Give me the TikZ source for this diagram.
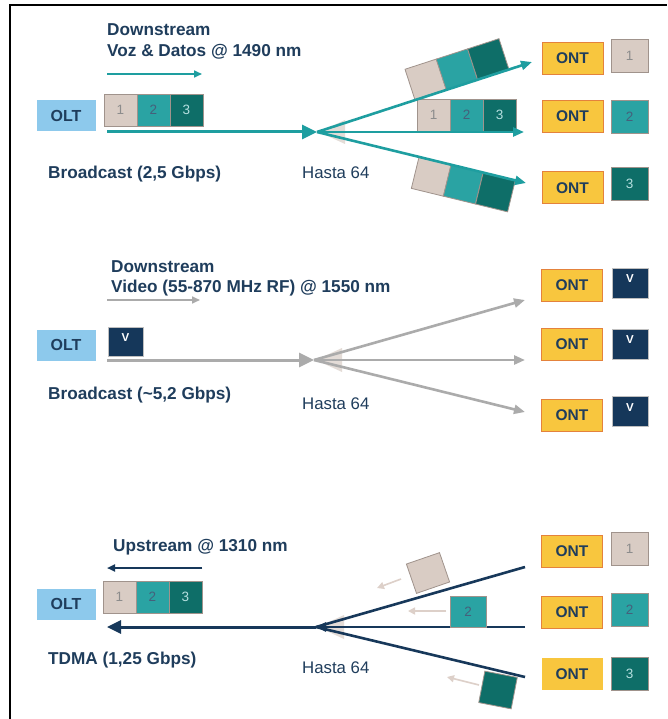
\documentclass[tikz,border=0pt]{standalone}
\usepackage{fontspec}
\setmainfont{Liberation Sans}
\usetikzlibrary{arrows.meta}

\definecolor{ink}{HTML}{1F3D5C}
\definecolor{fiberteal}{HTML}{1E9EA0}
\definecolor{oltblue}{HTML}{8DC9EC}
\definecolor{pkbeige}{HTML}{D9CCC4}
\definecolor{pkteal}{HTML}{2AA3A3}
\definecolor{pkdark}{HTML}{0E6E68}
\definecolor{pkedge}{HTML}{A0938C}
\definecolor{vnavy}{HTML}{15375A}
\definecolor{fibergray}{HTML}{ABABAB}
\definecolor{fibernavy}{HTML}{17385A}
\definecolor{ontgold}{HTML}{F8C63E}
\definecolor{ontedge}{HTML}{E4823C}
\definecolor{ghost}{HTML}{E4DCD7}
\definecolor{faintarrow}{HTML}{DDD0C9}

\begin{document}
\begin{tikzpicture}[x=1pt,y=-1pt,
  title/.style={font=\bfseries\fontsize{17.2}{19}\selectfont, text=ink, inner sep=0pt, anchor=base west},
  hasta/.style={font=\fontsize{16.8}{19}\selectfont, text=ink, inner sep=0pt, anchor=base west},
  olt/.style={fill=oltblue, minimum width=59pt, minimum height=31pt, inner sep=0pt,
    font=\bfseries\fontsize{16}{16}\selectfont, text=ink},
  ont/.style={fill=ontgold, draw=ontedge, line width=1pt, minimum width=61pt, minimum height=32pt,
    inner sep=0pt, font=\bfseries\fontsize{15.5}{16}\selectfont, text=ink},
  pk/.style={minimum width=33pt, minimum height=32pt, inner sep=0pt, draw=pkedge, line width=0.8pt,
    font=\fontsize{13.5}{14}\selectfont},
  pkA/.style={pk, fill=pkbeige, text=black!45},
  pkB/.style={pk, fill=pkteal, text=fibernavy!80},
  pkC/.style={pk, fill=pkdark, text=pkteal!35},
  lab/.style={minimum width=37pt, minimum height=33pt},
  vbox/.style={fill=vnavy, draw=black!25, line width=0.6pt, minimum width=36pt, minimum height=30pt,
    inner sep=0pt, font=\bfseries\fontsize{11.5}{12}\selectfont, text=white},
  mainteal/.style={draw=fiberteal, line width=3pt, -{Triangle[length=15pt,width=14pt]}},
  branchteal/.style={draw=fiberteal, line width=2.6pt, -{Triangle[length=11pt,width=9pt]}},
  maingray/.style={draw=fibergray, line width=3pt, -{Triangle[length=15pt,width=14pt]}},
  branchgray/.style={draw=fibergray, line width=2.6pt, -{Triangle[length=11pt,width=9pt]}},
  mainnavy/.style={draw=fibernavy, line width=3pt, -{Triangle[length=14pt,width=13pt]}},
  branchnavy/.style={draw=fibernavy, line width=2.6pt},
  hint/.style={line width=1.6pt, -{Triangle[length=8pt,width=7pt]}},
  faint/.style={draw=faintarrow, line width=1.6pt, -{Triangle[length=7pt,width=7pt]}}
]
\useasboundingbox (0,0) rectangle (667,719);
\fill[white] (0,0) rectangle (667,719);
\draw[line width=2pt] (10,719) -- (10,5) -- (667,5);

% ---------------- Downstream: voice & data ----------------
\coordinate (a1) at (107,132);
\coordinate (sp1) at (317,132);
\coordinate (e1a) at (532,62);
\coordinate (e1b) at (524,132);
\coordinate (e1c) at (526,183);
\coordinate (d1s) at (107,74);
\coordinate (d1e) at (202,74);

\node[title] (t1a) at (107,36) {Downstream};
\node[title] (t1b) at (107,57) {Voz \& Datos @ 1490 nm};
\draw[hint, draw=fiberteal, fill=fiberteal] (d1s) -- (d1e);

\node[olt] (olt1) at (66,116) {OLT};
\node[pkA] (p1a) at (120.5,110) {1};
\node[pkB] (p1b) at (153.5,110) {2};
\node[pkC] (p1c) at (186.5,110) {3};

\fill[ghost] (sp1) ++(2,0) -- ++(26,-12) -- ++(0,24) -- cycle;

\path (sp1) -- (e1a)
  node[pkA, sloped, anchor=south, pos=.529] (q1a) {}
  node[pkB, sloped, anchor=south, pos=.674] (q1b) {}
  node[pkC, sloped, anchor=south, pos=.820] (q1c) {};
\path (sp1) -- (e1c)
  node[pkA, sloped, anchor=north, pos=.565] (w1a) {}
  node[pkB, sloped, anchor=north, pos=.718] (w1b) {}
  node[pkC, sloped, anchor=north, pos=.872] (w1c) {};
\node[pkA] (m1a) at (433.5,115) {1};
\node[pkB] (m1b) at (466.5,115) {2};
\node[pkC] (m1c) at (499.5,115) {3};

\draw[mainteal] (a1) -- (sp1);
\draw[branchteal] (sp1) -- (e1a);
\draw[branchteal] (sp1) -- (e1b);
\draw[branchteal] (sp1) -- (e1c);

\node[ont] (o1a) at (572.5,58.5) {ONT};
\node[ont] (o1b) at (572.5,116.5) {ONT};
\node[ont] (o1c) at (572.5,188) {ONT};
\node[pkA, lab] (l1a) at (629.5,55.5) {1};
\node[pkB, lab] (l1b) at (629.5,116.5) {2};
\node[pkC, lab] (l1c) at (629.5,184) {3};

\node[title] (b1) at (48,179) {Broadcast (2,5 Gbps)};
\node[hasta] (h1) at (302,179) {Hasta 64};

% ---------------- Downstream: video ----------------
\coordinate (a2) at (107,360);
\coordinate (sp2) at (314,360);
\coordinate (e2a) at (525,300);
\coordinate (e2b) at (525,360);
\coordinate (e2c) at (525,412);
\coordinate (d2s) at (107,300);
\coordinate (d2e) at (200,300);

\node[title] (t2a) at (111,272) {Downstream};
\node[title] (t2b) at (111,292) {Video (55-870 MHz RF) @ 1550 nm};
\draw[hint, draw=fibergray, fill=fibergray] (d2s) -- (d2e);

\node[olt] (olt2) at (66,345) {OLT};
\node[vbox, minimum width=35pt, minimum height=29pt, text depth=8pt] (v2) at (125.5,341.5) {V};

\fill[ghost] (sp2) ++(2,0) -- ++(26,-12) -- ++(0,24) -- cycle;

\draw[maingray] (a2) -- (sp2);
\draw[branchgray] (sp2) -- (e2a);
\draw[branchgray] (sp2) -- (e2b);
\draw[branchgray] (sp2) -- (e2c);

\node[ont] (o2a) at (572,285.5) {ONT};
\node[ont] (o2b) at (572,344) {ONT};
\node[ont] (o2c) at (572,415.5) {ONT};
\node[vbox, text depth=8pt] (v2a) at (630,283) {V};
\node[vbox, text depth=8pt] (v2b) at (630,344) {V};
\node[vbox, text depth=8pt] (v2c) at (630,411.5) {V};

\node[title] (b2) at (48,399) {Broadcast (\textasciitilde5,2 Gbps)};
\node[hasta] (h2) at (302,409) {Hasta 64};

% ---------------- Upstream ----------------
\coordinate (a3) at (107,627);
\coordinate (sp3) at (316,627);
\coordinate (e3a) at (525,567);
\coordinate (e3b) at (525,627);
\coordinate (e3c) at (525,677);
\coordinate (u3s) at (202,568);
\coordinate (u3e) at (107,568);

\node[title] (t3) at (113,551) {Upstream @ 1310 nm};
\draw[hint, draw=fibernavy, fill=fibernavy, line width=2pt] (u3s) -- (u3e);

\node[olt] (olt3) at (66,604) {OLT};
\node[pkA] (p3a) at (119.5,597) {1};
\node[pkB] (p3b) at (152.5,597) {2};
\node[pkC] (p3c) at (185.5,597) {3};

\fill[ghost] (sp3) ++(2,0) -- ++(26,-12) -- ++(0,24) -- cycle;

\node[pkA, minimum width=35pt, minimum height=31pt, rotate=19] (r3a) at (428,573) {};
\node[pkC, rotate=-11] (r3c) at (498,690) {};

\coordinate (f1s) at (401,579);
\coordinate (f1e) at (377,588);
\coordinate (f2s) at (446,611);
\coordinate (f2e) at (408,611);
\coordinate (f3s) at (479,685);
\coordinate (f3e) at (447,677);
\draw[faint, fill=faintarrow] (f1s) -- (f1e);
\draw[faint, fill=faintarrow] (f2s) -- (f2e);
\draw[faint, fill=faintarrow] (f3s) -- (f3e);

\draw[branchnavy] (e3a) -- (sp3);
\draw[branchnavy] (e3c) -- (sp3);
\draw[branchnavy, -{Triangle[length=10pt,width=9pt]}] (e3b) -- (sp3);
\draw[mainnavy] (sp3) -- (a3);

\node[pkB, minimum width=36pt, minimum height=31pt] (r3b) at (468,612) {2};

\node[ont] (o3a) at (572,551) {ONT};
\node[ont] (o3b) at (572,612.5) {ONT};
\node[ont, draw=none] (o3c) at (572,674) {ONT};
\node[pkA, lab] (l3a) at (629.5,549) {1};
\node[pkB, lab] (l3b) at (629.5,609.5) {2};
\node[pkC, lab] (l3c) at (629.5,674) {3};

\node[title] (b3) at (48,664) {TDMA (1,25 Gbps)};
\node[hasta] (h3) at (302,673) {Hasta 64};
\end{tikzpicture}
\end{document}
